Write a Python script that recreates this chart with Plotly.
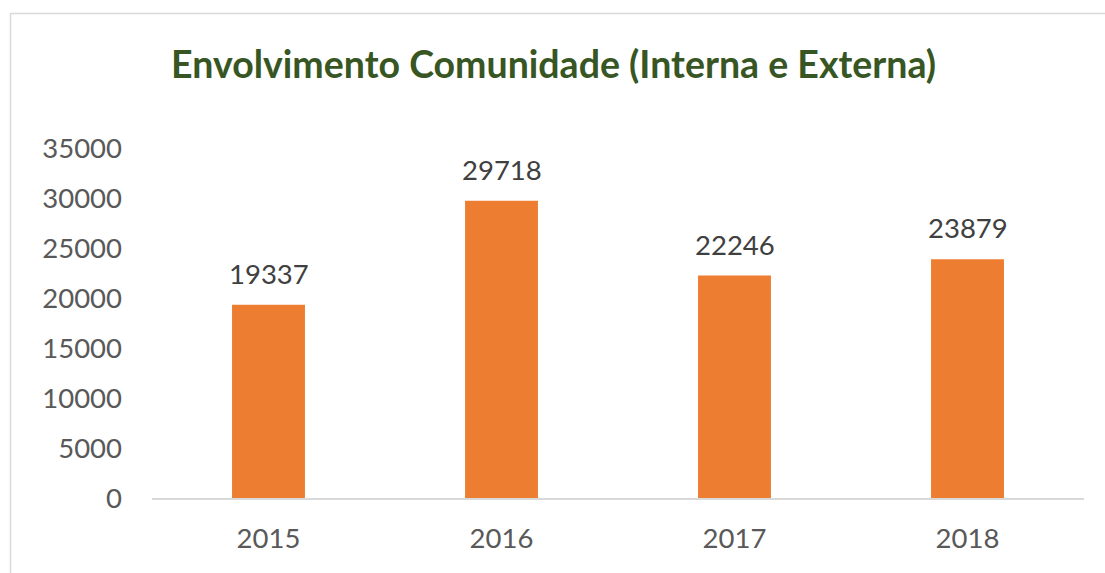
import plotly.graph_objects as go

years = ["2015", "2016", "2017", "2018"]
values = [19337, 29718, 22246, 23879]
y_ticks = [0, 5000, 10000, 15000, 20000, 25000, 30000, 35000]
y_tick_labels = ["0", "5000", "10000", "15000", "20000", "25000", "30000", "35000"]

FONT = "Lato"

fig = go.Figure()
fig.add_trace(go.Bar(
    x=years, y=values,
    marker=dict(color="#ED7D31", line=dict(width=0)),
    hoverinfo="x+y",
))

# category axis: annotation x given as category index
for i, v in enumerate(values):
    fig.add_annotation(x=i, y=v, xref="x", yref="y", text=str(v), showarrow=False,
                       yanchor="bottom", yshift=13,
                       font=dict(family=FONT, size=27.5, color="#404040"))

fig.update_layout(
    width=1105, height=573,
    bargap=0.687,
    margin=dict(l=152, r=21, t=148, b=75, autoexpand=False),
    paper_bgcolor="white", plot_bgcolor="white",
    showlegend=False,
    title=dict(text="<b>Envolvimento Comunidade (Interna e Externa)</b>",
               x=0.501, xanchor="center", y=1 - 65/573, yanchor="middle",
               font=dict(family=FONT, size=37.5, color="#375623")),
    xaxis=dict(type="category", categoryorder="array", categoryarray=years,
               range=[-0.5, 3.5],
               showgrid=False, showline=True, linecolor="#d9d9d9",
               linewidth=1.5, automargin=False,
               ticks="", tickfont=dict(family=FONT, size=27.5, color="#595959"),
               ticklabelstandoff=15, zeroline=False),
    yaxis=dict(range=[0, 35000], tickvals=y_ticks, ticktext=y_tick_labels,
               showgrid=False, showline=False, automargin=False,
               zeroline=False, ticks="",
               tickfont=dict(family=FONT, size=27.5, color="#595959"),
               ticklabelstandoff=29),
    shapes=[dict(type="line", xref="paper", yref="paper",
                 x0=(10.5-152)/932, x1=(10.5-152)/932,
                 y0=(75-573)/350, y1=1 + (148-13)/350,
                 line=dict(color="#d9d9d9", width=1.5)),
            dict(type="line", xref="paper", yref="paper",
                 x0=(10.5-152)/932, x1=(1105-152)/932,
                 y0=1 + (148-13.5)/350, y1=1 + (148-13.5)/350,
                 line=dict(color="#d9d9d9", width=1.5))],
)

fig.write_html("out.html", config={"displayModeBar": False},
               post_script="document.body.style.margin='0';")
